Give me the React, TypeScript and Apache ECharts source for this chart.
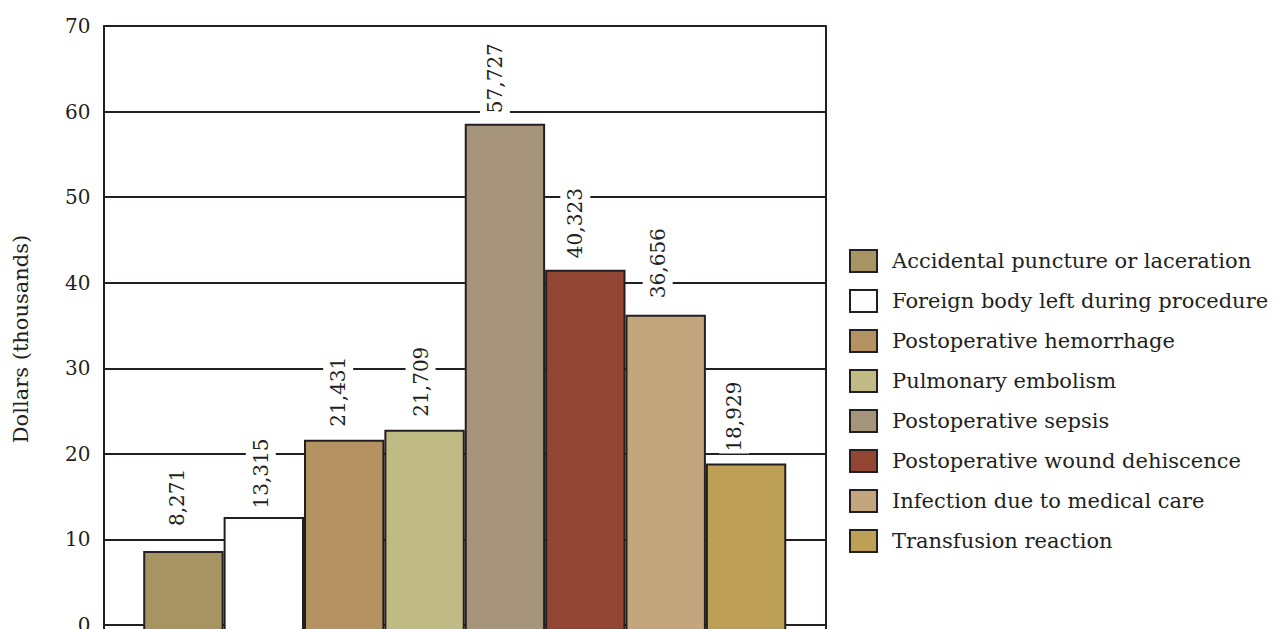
import React, { useEffect, useRef } from "react";
import * as echarts from "echarts";

const categories = [
  "Accidental puncture or laceration",
  "Foreign body left during procedure",
  "Postoperative hemorrhage",
  "Pulmonary embolism",
  "Postoperative sepsis",
  "Postoperative wound dehiscence",
  "Infection due to medical care",
  "Transfusion reaction",
];
// bar heights as drawn (thousands of dollars)
const barHeights = [8.65, 12.62, 21.66, 22.83, 58.59, 41.53, 36.27, 18.86];
// printed value labels
const labelTexts = ["8,271", "13,315", "21,431", "21,709", "57,727", "40,323", "36,656", "18,929"];
// axis: ticks 0..70 every 10; the plot runs slightly below 0 (cut at the picture's edge)
const yMin = -0.7;
const yMax = 70;
const ySplits = 7;
const axisTitle = "Dollars (thousands)";

// styles
const colors = ["#A69563", "#FFFFFF", "#B59262", "#C0BA84", "#A6957B", "#924532", "#C4A67E", "#BDA056"];
const labelLift = [23, 6.5, 11, 11, 8.5, 9.5, 14.5, 10];
const labelShift = [-6, -3, -6, -4, -10, -10, -8, -12];
const INK = "#231f20";
const FONT = "'DejaVu Serif', 'Liberation Serif', serif";

export default function App() {
  const ref = useRef<HTMLDivElement>(null);
  useEffect(() => {
    if (!ref.current) return;
    const chart = echarts.init(ref.current, null, { renderer: "svg", width: 1274, height: 629 });
    const series = categories.map((name, i) => ({
      name,
      type: "bar",
      data: [barHeights[i]],
      barGap: "0%",
      barCategoryGap: "11%",
      itemStyle: { color: colors[i], borderColor: INK, borderWidth: 2 },
      label: {
        show: true,
        position: "top",
        distance: labelLift[i],
        rotate: 90,
        align: "left",
        verticalAlign: "middle",
        offset: [0, labelShift[i]],
        formatter: () => labelTexts[i],
        fontFamily: FONT,
        fontSize: 20,
        color: INK,
        backgroundColor: "#ffffff",
        padding: [5, 2],
      },
    }));
    chart.setOption({
      animation: false,
      backgroundColor: "#ffffff",
      textStyle: { fontFamily: FONT },
      grid: { left: 103.5, right: 448, top: 26, height: 605, containLabel: false, outerBoundsMode: "none" },
      legend: {
        orient: "vertical",
        left: 849,
        top: 249,
        padding: 0,
        itemWidth: 27,
        itemHeight: 22,
        itemGap: 16,
        icon: "rect",
        itemStyle: { borderColor: INK, borderWidth: 2 },
        textStyle: { fontFamily: FONT, fontSize: 21, color: INK, lineHeight: 22, padding: [0, 0, 0, 10] },
        data: categories,
      },
      xAxis: {
        type: "category",
        data: [""],
        axisLine: { show: false },
        axisTick: { show: false },
        axisLabel: { show: false },
        splitLine: { show: false },
      },
      yAxis: [
        {
          type: "value",
          min: yMin,
          max: yMax,
          splitNumber: ySplits,
          startValue: yMin,
          axisLine: { show: true, onZero: false, lineStyle: { color: INK, width: 2 } },
          axisTick: { show: false },
          axisLabel: {
            fontFamily: FONT,
            fontSize: 20,
            color: INK,
            margin: 13,
            formatter: (v: number) => (v < 0 ? "" : String(Math.round(v))),
          },
          splitLine: { show: true, lineStyle: { color: INK, width: 2 } },
        },
        {
          type: "value",
          position: "right",
          min: yMin,
          max: yMax,
          splitNumber: ySplits,
          axisLine: { show: true, onZero: false, lineStyle: { color: INK, width: 2 } },
          axisTick: { show: false },
          axisLabel: { show: false },
          splitLine: { show: false },
        },
      ],
      graphic: [
        {
          type: "text",
          x: 21,
          y: 339,
          rotation: Math.PI / 2,
          style: {
            text: axisTitle,
            fontFamily: FONT,
            fontSize: 21,
            fill: INK,
            textAlign: "center",
            textVerticalAlign: "middle",
          },
        },
      ],
      series,
    });
    return () => chart.dispose();
  }, []);
  return (
    <div
      ref={ref}
      style={{ position: "fixed", left: 0, top: 0, width: 1274, height: 629, background: "#fff" }}
    />
  );
}
